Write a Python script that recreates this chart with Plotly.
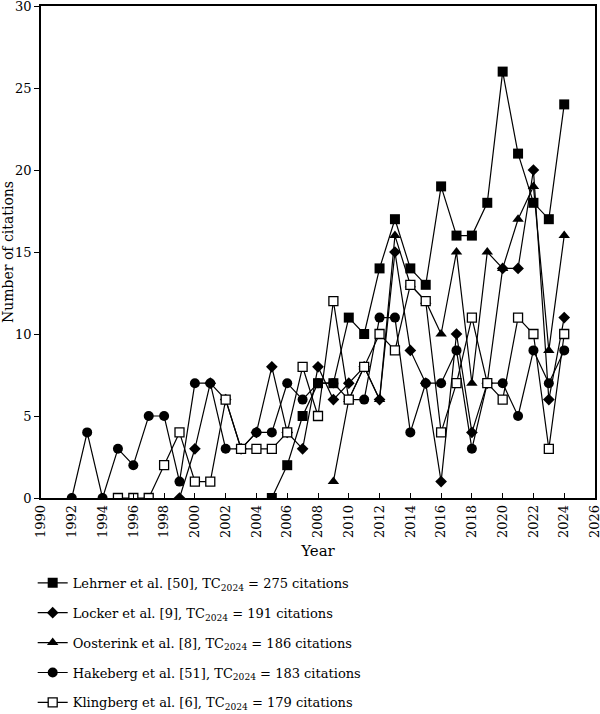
import plotly.graph_objects as go

years_lehrner = list(range(2005, 2025))
lehrner = [0, 2, 5, 7, 7, 11, 10, 14, 17, 14, 13, 19, 16, 16, 18, 26, 21, 18, 17, 24]

years_locker = list(range(1999, 2025))
locker = [0, 3, 7, 6, 3, 4, 8, 4, 3, 8, 6, 7, 8, 6, 15, 9, 7, 1, 10, 4, 7, 14, 14, 20, 6, 11]

years_oosterink = list(range(2009, 2025))
oosterink = [1, 6, 8, 6, 16, 13, 12, 10, 15, 7, 15, 14, 17, 19, 9, 16]

years_hakeberg = list(range(1992, 2025))
hakeberg = [0, 4, 0, 3, 2, 5, 5, 1, 7, 7, 3, 3, 4, 4, 7, 6, 7, 7, 6, 6, 11, 11, 4, 7, 7, 9, 3, 7, 7, 5, 9, 7, 9]

years_klingberg = list(range(1995, 2025))
klingberg = [0, 0, 0, 2, 4, 1, 1, 6, 3, 3, 3, 4, 8, 5, 12, 6, 8, 10, 9, 13, 12, 4, 7, 11, 7, 6, 11, 10, 3, 10]

names = [
    "Lehrner et al. [50], TC<sub>2024</sub> = 275 citations",
    "Locker et al. [9], TC<sub>2024</sub> = 191 citations",
    "Oosterink et al. [8], TC<sub>2024</sub> = 186 citations",
    "Hakeberg et al. [51], TC<sub>2024</sub> = 183 citations",
    "Klingberg et al. [6], TC<sub>2024</sub> = 179 citations",
]

x_ticks = list(range(1990, 2027, 2))
y_ticks = list(range(0, 31, 5))

series = [
    (years_lehrner, lehrner, dict(symbol="square", size=10, color="black")),
    (years_locker, locker, dict(symbol="diamond", size=9, color="black")),
    (years_oosterink, oosterink, dict(symbol="triangle-up", size=10, color="black")),
    (years_hakeberg, hakeberg, dict(symbol="circle", size=10, color="black")),
    (years_klingberg, klingberg, dict(symbol="square", size=9, color="white",
                                      line=dict(color="black", width=1.3))),
]

fig = go.Figure()
for i, ((xs, ys, mk), nm) in enumerate(zip(series, names)):
    fig.add_trace(go.Scatter(
        x=xs, y=ys, mode="lines+markers", name=nm,
        line=dict(color="black", width=1.2),
        marker=mk, legendgroup=f"g{i}",
    ))

font_family = "DejaVu Serif"
fig.update_layout(
    width=600, height=714,
    margin=dict(l=41, r=5, t=6, b=216, autoexpand=False),
    plot_bgcolor="white", paper_bgcolor="white",
    font=dict(family=font_family, size=14, color="black"),
    showlegend=True,
    legend=dict(
        x=-0.015, y=-0.142, xanchor="left", yanchor="top",
        font=dict(family=font_family, size=13, color="black"),
        tracegroupgap=10, bgcolor="rgba(0,0,0,0)",
        itemwidth=30,
    ),
    xaxis=dict(
        range=[1990, 2026], tickvals=x_ticks, ticktext=[str(v) for v in x_ticks],
        tickangle=-90, ticks="inside", ticklen=5, tickcolor="black",
        showline=True, linecolor="black", linewidth=1.5, mirror=True,
        showgrid=False, zeroline=False, ticklabeloverflow="allow",
        automargin=False,
        tickfont=dict(family=font_family, size=13),
        title=dict(text="Year", font=dict(family=font_family, size=15), standoff=8),
    ),
    yaxis=dict(
        range=[0, 30], tickvals=y_ticks,
        ticks="outside", ticklen=5, tickcolor="black",
        showline=True, linecolor="black", linewidth=1.5, mirror=True,
        showgrid=False, zeroline=False, ticklabeloverflow="allow",
        automargin=False,
        tickfont=dict(family=font_family, size=13),
        title=dict(text="Number of citations", font=dict(family=font_family, size=14), standoff=4),
    ),
)

fig.write_html("out.html")
